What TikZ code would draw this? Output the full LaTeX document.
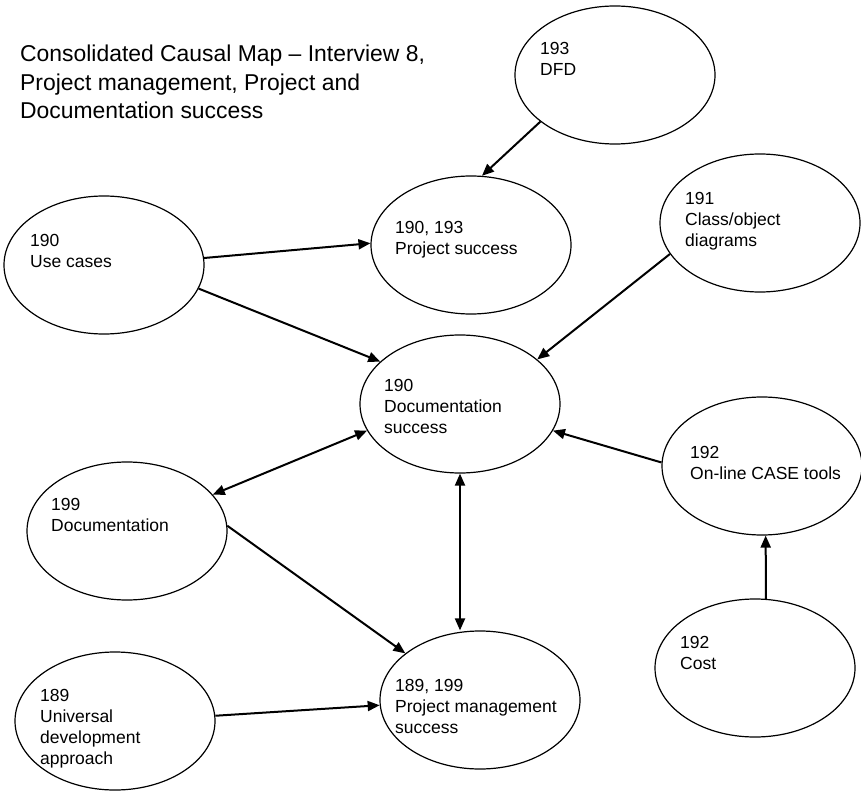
\documentclass[tikz,border=0pt]{standalone}
\usepackage{fontspec}
\setmainfont{Liberation Sans}
\usetikzlibrary{shapes.geometric,arrows.meta}

\begin{document}
\begin{tikzpicture}[
  x=1pt,y=-1pt,
  ell/.style={ellipse,draw,line width=1.2pt,minimum width=200pt,minimum height=138pt,inner sep=0pt},
  lbl/.style={anchor=north west,inner sep=0pt,align=left,font=\fontsize{17.5}{21}\selectfont},
  cause/.style={line width=2pt,-{Triangle[length=12pt,width=10pt]}},
  both/.style={line width=2pt,{Triangle[length=12pt,width=10pt]}-{Triangle[length=12pt,width=10pt]}}
]
\useasboundingbox (0,0) rectangle (861,791);

\node[anchor=north west,inner sep=0pt,align=left,font=\fontsize{22.9}{28.3}\selectfont] (title) at (20,45)
  {Consolidated Causal Map – Interview 8,\\Project management, Project and\\Documentation success};

\node[ell] (dfd) at (615,75) {};
\node[ell] (ps) at (471,245) {};
\node[ell] (uc) at (104,265) {};
\node[ell] (cls) at (760,223) {};
\node[ell] (ds) at (460,404) {};
\node[ell] (case) at (762,466) {};
\node[ell] (doc) at (127,531) {};
\node[ell] (pm) at (480,700) {};
\node[ell] (cost) at (755,668) {};
\node[ell] (univ) at (115,721) {};

\node[lbl] (dfd-t) at (540,41.7) {193\\DFD};
\node[lbl] (ps-t) at (395,220.7) {190, 193\\Project success};
\node[lbl] (uc-t) at (30,233.7) {190\\Use cases};
\node[lbl] (cls-t) at (685,191.7) {191\\Class/object\\diagrams};
\node[lbl] (ds-t) at (384,379) {190\\Documentation\\success};
\node[lbl] (case-t) at (690,445.7) {192\\On-line CASE tools};
\node[lbl] (doc-t) at (51,497.7) {199\\Documentation};
\node[lbl] (pm-t) at (395,678.7) {189, 199\\Project management\\success};
\node[lbl] (cost-t) at (680,635.7) {192\\Cost};
\node[lbl] (univ-t) at (40,688.7) {189\\Universal\\development\\approach};

\draw[cause] (dfd.212) -- (ps.81);
\draw[cause] (uc.4) -- (ps.179);
\draw[cause] (uc.346) -- (ds.152);
\draw[cause] (cls.199) -- (ds.30);
\draw[cause] (case.178) -- (ds.344);
\draw[cause] (cost.81) -- (case.273);
\draw[both] (doc.23) -- (ds.196);
\draw[cause] (doc.3) -- (pm.148);
\draw[both] (ds.south) -- (ds.south |- pm.north);
\draw[cause] (univ.3) -- (pm.183);
\end{tikzpicture}
\end{document}
